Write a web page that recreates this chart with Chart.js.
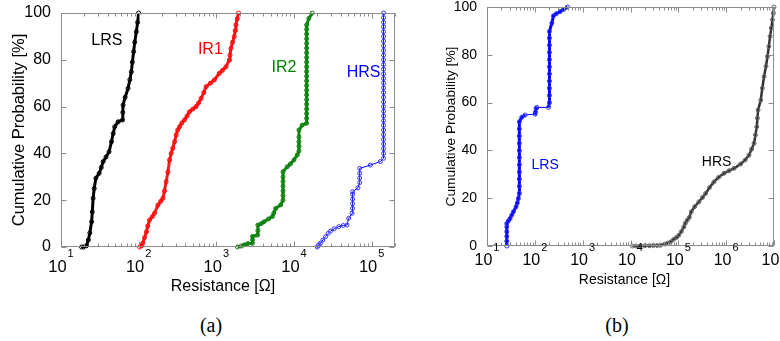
<!DOCTYPE html>
<html>
<head>
<meta charset="utf-8">
<script src="https://cdn.jsdelivr.net/npm/chart.js@4.4.1/dist/chart.umd.min.js"></script>
<style>
  html, body { margin: 0; padding: 0; background: #fff; width: 780px; height: 341px; overflow: hidden; position: relative; }
  canvas { position: absolute; top: 0; }
  #chartA { left: 0; }
  #chartB { left: 400px; }
  .cap { position: absolute; top: 314px; width: 40px; text-align: center;
         font-family: "Liberation Serif", "Times New Roman", serif; font-size: 20px; line-height: 23px; }
</style>
</head>
<body>
<canvas id="chartA" width="400" height="300"></canvas>
<canvas id="chartB" width="380" height="300"></canvas>
<div class="cap" style="left:191px">(a)</div>
<div class="cap" style="left:597px">(b)</div>
<script>
// [resistance in ohm, cumulative probability in %]
// panel (a)
const lrsA = [[18.4,0],[19.5,0],[21.3,0.5],[22.5,3],[23.5,6],[24.8,10.8],[25.3,15],[25.9,20.8],[26.8,25],[28.1,29.4],
  [31,31.5],[33,34],[34.9,36.5],[38,38.5],[41.6,40.7],[44.7,45],[47,48.5],[49.2,51.4],[54.3,53.5],[61.8,54.3],
  [62.5,57.5],[63,60.7],[67,64],[73,67.8],[77,71.5],[80.5,74.9],[83,79],[86.2,83.5],[89,87.5],[93.3,92],[97,96],[100,100]]
const ir1A = [[103,0],[108,0.5],[113,1.6],[119,4],[126,6.5],[131,9],[138,11.5],[150,13],[160,14.4],[177,17.9],
  [192,19.5],[205,20.8],[215,24],[226,27.9],[238,32],[250,37.2],[262,40],[275,42.2],[290,45],[304,47.9],[318,50],
  [336,51.4],[360,53],[389,54.3],[420,56],[451,57.8],[500,59],[549,60],[590,61.5],[637,63.5],[690,66],[738,68.5],
  [840,70],[943,71.4],[1092,74.2],[1200,75.5],[1330,77],[1468,79.9],[1500,82],[1542,84.9],[1620,87.5],[1702,89.9],
  [1750,92.5],[1788,94.9],[1860,97.5],[1932,100]]
const ir2A = [[1876,0],[2100,0.4],[2285,0.9],[2550,1.5],[2924,1.6],[2924,3],[2924,4.5],[3380,5.1],[3430,7],[3430,9.4],
  [3800,10],[4120,10.8],[4700,12],[5270,13],[5500,14.5],[5820,16.5],[6740,18],[7230,20],[7230,22],[7230,24],
  [7230,26],[7230,28],[7230,30],[7230,32.2],[8200,34.3],[9000,35.5],[10000,37.2],[11020,39.3],[11590,41],[11590,43],
  [11590,45],[11590,47],[11590,50],[12770,52.1],[14550,52.9],[14550,55],[14550,57],[14550,59],[14550,61],[14550,63],
  [14550,65],[14550,67],[14550,69],[14550,71],[14550,73],[14550,75],[14550,77],[14550,79],[14550,81],[14550,83],
  [14550,85],[14550,87],[14550,89],[14550,91],[14550,93],[14550,94.9],[15560,97.7],[17180,100]]
const hrsA = [[19920,0],[20500,0.5],[21000,1],[21980,1.6],[23500,3],[25480,4.4],[27500,5.8],[29570,6.8],[33000,7.8],
  [37760,8.7],[43000,9.2],[48240,9.4],[50700,12.3],[55890,14.4],[56900,16.5],[56900,18.5],[56900,20.5],[56900,22.5],
  [56900,23.6],[66680,25.3],[70200,27.5],[70200,29.5],[70200,31.5],[70200,33.6],[96100,35],[129100,36.5],[142500,37.9],
  [142500,40],[142500,42],[142500,44],[142500,46],[142500,48],[142500,50],[142500,52],[142500,54],[142500,56],
  [142500,58],[142500,60],[142500,62],[142500,64],[142500,66],[142500,68],[142500,70],[142500,72],[142500,74],
  [142500,76],[142500,78],[142500,80],[142500,82],[142500,84],[142500,86],[142500,88],[142500,90],[142500,92],
  [142500,94],[142500,96],[142500,98],[142500,100]]
// panel (b)
const lrsB = [[25.9,0],[25.9,2],[25.9,4],[25.9,6],[25.9,8],[25.9,9.4],[28,10.5],[30.3,11.5],[33,13],[35.6,14.3],
  [40.5,16.4],[43,18],[45.3,19.9],[47.5,22],[47.5,25],[47.5,28],[47.5,31],[47.5,34],[47.5,37],[47.5,40],[47.5,43],
  [47.5,46],[47.5,49],[47.5,52],[53.3,53.9],[62.6,54.8],[101,55.2],[103,56],[106,57.5],[110,58],[193,58],[202,60],
  [202,63],[202,66],[202,69],[202,72],[202,75],[202,78],[202,81],[202,84],[202,87],[202,89.8],[227,93.3],[245,96.3],
  [280,97.2],[339,98.1],[400,99],[482,100]]
const hrsB = [[11000,0],[13000,0],[16000,0],[20000,0.1],[25000,0.1],[30000,0.2],[36000,0.2],[42400,0.3],[52000,0.8],
  [60000,1.2],[68600,1.7],[80000,2.8],[92000,3.6],[102500,4.5],[115000,6],[130600,8],[140000,9.5],[153500,10.8],
  [170000,12],[186200,14.3],[220000,16.5],[269000,18.5],[320000,20.3],[372000,22],[450000,24.5],[555000,26.8],
  [700000,28.8],[899000,30.4],[1.15e6,31.5],[1.46e6,32.5],[2.01e6,34.3],[2.5e6,36],[3.0e6,38],[3.4e6,40.5],
  [3.83e6,43],[4.1e6,46.5],[4.36e6,49.9],[4.5e6,53.5],[4.65e6,56.9],[5.29e6,61.1],[5.7e6,66],[6.2e6,70.9],
  [6.8e6,75.2],[7.31e6,79.3],[7.8e6,83.5],[8.28e6,87.7],[8.8e6,91.2],[9.3e6,94.7],[9.7e6,97.5],[1e7,100]]

const yTicks = [0, 20, 40, 60, 80, 100]
const FONT = '"Liberation Sans", Arial, Helvetica, sans-serif'

// frame, inward ticks, 10^n labels, x title and curve labels
const logFrame = {
  id: 'logFrame',
  afterDatasetsDraw(chart, args, o) {
    const { ctx, chartArea: a, scales: { x, y } } = chart
    const L = Math.round(a.left) + 0.5, R = Math.round(a.right) - 0.5
    const T = Math.round(a.top) + 0.5, B = Math.round(a.bottom) - 0.5
    ctx.save()
    ctx.strokeStyle = '#8c8c8c'
    ctx.lineWidth = 1
    ctx.strokeRect(L, T, R - L, B - T)
    ctx.beginPath()
    const e0 = Math.floor(Math.log10(x.min)), e1 = Math.ceil(Math.log10(x.max))
    for (let e = e0; e <= e1; e++) {
      for (let m = 1; m <= 9; m++) {
        const v = m * Math.pow(10, e)
        if (v < x.min * 0.999 || v > x.max * 1.001) continue
        const px = Math.round(x.getPixelForValue(v)) + 0.5
        const len = m === 1 ? 5 : 3
        ctx.moveTo(px, B); ctx.lineTo(px, B - len)
        ctx.moveTo(px, T); ctx.lineTo(px, T + len)
      }
    }
    yTicks.forEach(t => {
      const py = Math.round(y.getPixelForValue(t)) + 0.5
      ctx.moveTo(L, py); ctx.lineTo(L + 5, py)
      ctx.moveTo(R, py); ctx.lineTo(R - 5, py)
    })
    ctx.stroke()

    ctx.fillStyle = '#000'
    ctx.textBaseline = 'middle'
    ctx.textAlign = 'left'
    for (let e = e0; e <= e1; e++) {
      const v = Math.pow(10, e)
      if (v < x.min * 0.999 || v > x.max * 1.001) continue
      const px = x.getPixelForValue(v)
      ctx.font = `${o.baseSize}px ${FONT}`
      const w1 = ctx.measureText('10').width
      ctx.font = `${o.expSize}px ${FONT}`
      const w2 = ctx.measureText(String(e)).width
      const start = px - (w1 + w2 + 1) / 2
      ctx.font = `${o.baseSize}px ${FONT}`
      ctx.fillText('10', start, a.bottom + o.baseDy)
      ctx.font = `${o.expSize}px ${FONT}`
      ctx.fillText(String(e), start + w1 + 1, a.bottom + o.expDy)
    }

    ctx.textAlign = 'center'
    ctx.font = `${o.titleSize}px ${FONT}`
    ctx.fillText('Resistance [Ω]', (a.left + a.right) / 2 + o.titleDx, o.titleY)

    ctx.font = `${o.labelSize}px ${FONT}`
    o.labels.forEach(l => {
      ctx.fillStyle = l.color
      ctx.fillText(l.text, x.getPixelForValue(l.at[0]), y.getPixelForValue(l.at[1]))
    })
    ctx.restore()
  }
}

function makeChart(id, cfg) {
  return new Chart(document.getElementById(id), {
    type: 'scatter',
    data: {
      datasets: cfg.series.map(s => ({
        data: s.data.map(([r, p]) => ({ x: r, y: p })),
        showLine: true,
        borderColor: s.line,
        borderWidth: s.width,
        // long flat connectors between sparse measurements stay thin
        segment: {
          borderWidth: c => {
            const dx = Math.abs(c.p1.x - c.p0.x), dy = Math.abs(c.p1.y - c.p0.y)
            return s.thinFlat && dx > 6 && dx > 2 * dy ? 1 : s.width
          },
        },
        pointRadius: 2,
        pointBorderWidth: 1,
        pointBorderColor: s.marker,
        pointBackgroundColor: 'rgba(0,0,0,0)',
        clip: 4,
      })),
    },
    options: {
      responsive: false,
      animation: false,
      devicePixelRatio: 1,
      layout: { padding: cfg.padding },
      plugins: {
        legend: { display: false },
        tooltip: { enabled: false },
        logFrame: cfg.frame,
      },
      scales: {
        x: {
          type: 'logarithmic',
          min: cfg.xMin,
          max: cfg.xMax,
          grid: { display: false },
          border: { display: false },
          ticks: { display: false },
          afterFit: s => { s.height = cfg.xH; s.paddingLeft = 0; s.paddingRight = 0 },
        },
        y: {
          min: 0,
          max: 100,
          ticks: { stepSize: 20, color: '#000', padding: 2, font: { family: FONT, size: cfg.yTickSize } },
          grid: { display: false },
          border: { display: false },
          title: {
            display: true,
            text: 'Cumulative Probability [%]',
            color: '#000',
            font: { family: FONT, size: cfg.yTitleSize },
            padding: { top: cfg.yTitlePad, bottom: 0 },
          },
          afterFit: s => { s.width = cfg.yW; s.paddingTop = 0; s.paddingBottom = 0 },
        },
      },
    },
    plugins: [logFrame],
  })
}

makeChart('chartA', {
  series: [
    { data: lrsA, line: '#000000', marker: '#000000', width: 3 },
    { data: ir1A, line: '#ff1a1a', marker: '#ff0000', width: 3 },
    { data: ir2A, line: '#118a11', marker: '#0b7a0b', width: 3 },
    { data: hrsA, line: '#0000ff', marker: '#3535ff', width: 1 },
  ],
  xMin: 10, xMax: 2e5,
  padding: { left: 0, right: 5, top: 13, bottom: 0 },
  yW: 61, xH: 53,
  yTickSize: 16, yTitleSize: 16.5, yTitlePad: 10,
  frame: {
    baseSize: 16.5, expSize: 11, baseDy: 20, expDy: 7,
    titleSize: 16, titleDx: -5, titleY: 287,
    labelSize: 16,
    labels: [
      { text: 'LRS', at: [39, 88], color: '#000000' },
      { text: 'IR1', at: [838, 84.2], color: '#ff0000' },
      { text: 'IR2', at: [7450, 76.5], color: '#008000' },
      { text: 'HRS', at: [78900, 74.4], color: '#0000ff' },
    ],
  },
})

makeChart('chartB', {
  series: [
    { data: lrsB, line: '#0000ff', marker: '#2a2aff', width: 3, thinFlat: true },
    { data: hrsB, line: '#333333', marker: '#666666', width: 2.5 },
  ],
  xMin: 10, xMax: 1e7,
  padding: { left: 0, right: 6, top: 7, bottom: 0 },
  yW: 87, xH: 54,
  yTickSize: 14, yTitleSize: 13.7, yTitlePad: 43,
  frame: {
    baseSize: 16, expSize: 11, baseDy: 15, expDy: 2,
    titleSize: 14, titleDx: -6, titleY: 280,
    labelSize: 14,
    labels: [
      { text: 'LRS', at: [164, 33.9], color: '#0000ff' },
      { text: 'HRS', at: [631000, 35.1], color: '#000000' },
    ],
  },
})
</script>
</body>
</html>
